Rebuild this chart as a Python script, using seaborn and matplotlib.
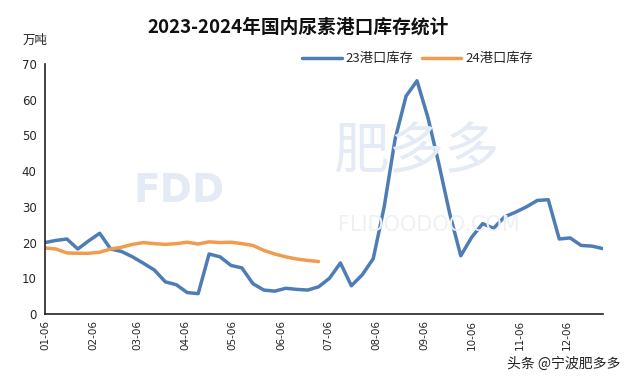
import pandas as pd
import matplotlib.pyplot as plt
import matplotlib.dates as mdates
import seaborn as sns

# 周度数据(2023年日期作为横轴, 单位: 万吨)
dates = pd.date_range("2023-01-06", periods=52, freq="7D")
port23 = [20.0, 20.6, 21.0, 18.2, 20.5, 22.6, 18.2, 17.5, 16.0, 14.2,
          12.3, 9.0, 8.2, 6.0, 5.7, 16.8, 16.0, 13.6, 12.9, 8.5,
          6.7, 6.4, 7.2, 6.9, 6.7, 7.6, 10.0, 14.3, 7.9, 11.0,
          15.5, 30.0, 49.0, 61.0, 65.3, 55.0, 42.0, 28.0, 16.3, 21.5,
          25.3, 24.0, 27.2, 28.5, 30.0, 31.8, 32.0, 21.0, 21.3, 19.2,
          19.0, 18.3]
port24 = [18.5, 18.2, 17.1, 17.0, 17.0, 17.3, 18.2, 18.7, 19.5, 20.0,
          19.7, 19.5, 19.7, 20.1, 19.6, 20.2, 20.0, 20.1, 19.7, 19.2,
          17.8, 16.8, 16.0, 15.4, 15.0, 14.7]
yticks = [0, 10, 20, 30, 40, 50, 60, 70]

df23 = pd.DataFrame({"date": dates, "value": port23, "series": "23港口库存"})
df24 = pd.DataFrame({"date": dates[:len(port24)], "value": port24, "series": "24港口库存"})
df = pd.concat([df23, df24], ignore_index=True)

sns.set_style("white")
plt.rcParams['font.family'] = ['Noto Sans CJK SC', 'DejaVu Sans']

fig = plt.figure(figsize=(6.4, 3.81), dpi=100)
ax = fig.add_axes([45 / 640, 1 - 314 / 381, 558 / 640, 250 / 381])

# 背景水印
fig.text(0.28, 0.50, "FDD", fontsize=28, fontweight="bold", color="#e4ebf4",
         ha="center", va="center", zorder=0, family="DejaVu Sans")
fig.text(0.65, 0.60, "肥多多", fontsize=40, color="#e4ebf4",
         ha="center", va="center", zorder=0)
fig.text(0.67, 0.41, "FLIDOODOO.COM", fontsize=15, color="#edf1f6",
         ha="center", va="center", zorder=0, family="DejaVu Sans")

sns.lineplot(data=df, x="date", y="value", hue="series", ax=ax,
             palette=["#4e7db5", "#f19b4e"], linewidth=2.5, legend=True)
for ln in ax.lines:
    ln.set_solid_joinstyle("round")
    ln.set_solid_capstyle("round")

ax.set_ylim(0, 70)
ax.set_yticks(yticks)
ax.set_xlim(dates[0], dates[-1])
ax.xaxis.set_major_locator(mdates.MonthLocator(bymonthday=6))
ax.xaxis.set_major_formatter(mdates.DateFormatter("%m-%d"))
ax.tick_params(axis="x", direction="in", length=4, width=1, labelsize=7.5,
               rotation=90, pad=4, color="#333333")
ax.tick_params(axis="y", direction="in", length=4, width=1, labelsize=8.5,
               pad=6, color="#333333")
for lab in ax.get_xticklabels() + ax.get_yticklabels():
    lab.set_family("DejaVu Sans")
ax.set_xlabel("")
ax.set_ylabel("")
sns.despine(ax=ax)
for s in ["left", "bottom"]:
    ax.spines[s].set_color("#222222")
    ax.spines[s].set_linewidth(1.2)
ax.patch.set_alpha(0)

ax.legend(loc="upper left", bbox_to_anchor=(0.44, 1.095), ncol=2, frameon=False,
          fontsize=9.5, handlelength=3.0, columnspacing=0.6, handletextpad=0.3)

fig.text(0.465, 0.93, "2023-2024年国内尿素港口库存统计", ha="center", va="center",
         fontsize=13.5, fontweight="bold", color="#111111")
fig.text(0.035, 0.895, "万吨", ha="left", va="center", fontsize=9, color="#222222")
fig.text(0.97, 0.045, "头条 @宁波肥多多", ha="right", va="center", fontsize=10,
         color="#222222")

plt.savefig("out.png", dpi=100)
